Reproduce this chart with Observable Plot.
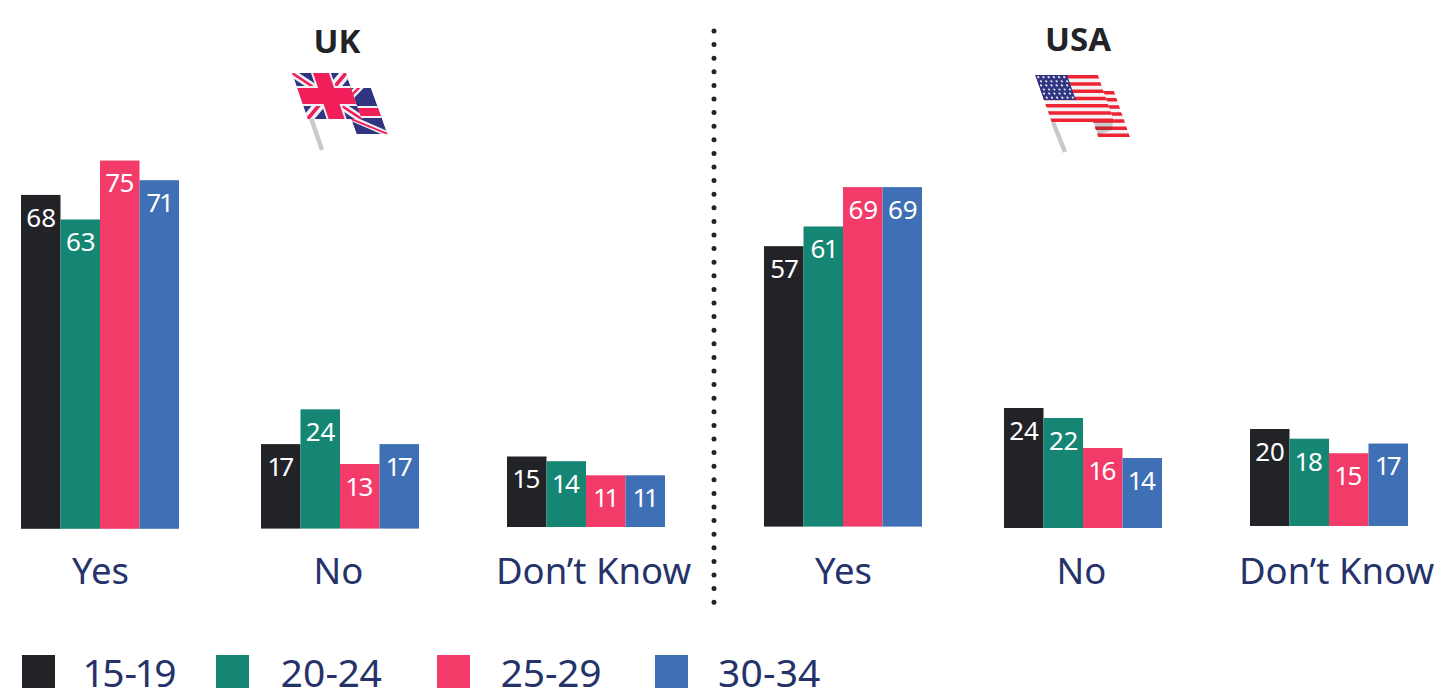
<!DOCTYPE html>
<html><head><meta charset="utf-8">
<script src="https://cdn.jsdelivr.net/npm/d3@7"></script>
<script src="https://cdn.jsdelivr.net/npm/@observablehq/plot@0.6"></script>
<style>
html,body{margin:0;padding:0;background:#fff;overflow:hidden}
#page{position:relative;width:1456px;height:688px;overflow:hidden;font-family:"Noto Sans",sans-serif;font-variant-numeric:proportional-nums}
#page>svg,#page>div{position:absolute}
#page svg text{font-variant-numeric:proportional-nums}
.title{font-weight:700;font-size:33px;color:#222327;transform:translateX(-50%);line-height:40px}
.swatch{width:33px;height:33px;top:655px}
.legendText{font-size:39px;color:#25336a;line-height:30px;top:657px}
</style></head><body><div id="page"></div>
<script>
const ages = ["15-19", "20-24", "25-29", "30-34"];
const colors = ["#222327", "#158674", "#f23b69", "#3f6fb5"];
const answers = ["Yes", "No", "Don’t Know"];
const ukYes = [68, 63, 75, 71];
const ukNo = [17, 24, 13, 17];
const ukDontKnow = [15, 14, 11, 11];
const usaYes = [57, 61, 69, 69];
const usaNo = [24, 22, 16, 14];
const usaDontKnow = [20, 18, 15, 17];

// Layout of each group of bars on the page: left edge, baseline, pixels per percentage point, label shift
const groups = [
  {answer: answers[0], values: ukYes, left: 21, base: 529, unit: 4.91, dx: 0},
  {answer: answers[1], values: ukNo, left: 261, base: 529, unit: 4.97, dx: -2},
  {answer: answers[2], values: ukDontKnow, left: 507, base: 527, unit: 4.7, dx: 7},
  {answer: answers[0], values: usaYes, left: 764, base: 527, unit: 4.92, dx: 0},
  {answer: answers[1], values: usaNo, left: 1004, base: 528, unit: 5.0, dx: -2},
  {answer: answers[2], values: usaDontKnow, left: 1250, base: 526, unit: 4.85, dx: 7}
];
const page = document.getElementById("page");
const side = 60, inner = 158, below = 70, top0 = 30, labelBaseline = 558;

for (const g of groups) {
  const rows = ages.map((age, i) => ({answer: g.answer, age, value: g.values[i]}));
  const innerH = 80 * g.unit;
  const chart = Plot.plot({
    width: inner + 2 * side, height: innerH + below + top0,
    marginLeft: side, marginRight: side, marginTop: top0, marginBottom: below,
    style: {background: "transparent", overflow: "visible"},
    x: {domain: ages, padding: 0, axis: null, round: false},
    y: {domain: [0, 80], axis: null},
    fx: {domain: [g.answer], padding: 0},
    color: {domain: ages, range: colors},
    marks: [
      Plot.barY(rows, {fx: "answer", x: "age", y: "value", fill: "age"}),
      Plot.text(rows, {fx: "answer", x: "age", y: "value", text: "value", fill: "#fff", fontSize: 26,
        dy: 23, lineAnchor: "middle", fontFamily: "'Noto Sans', sans-serif"}),
      Plot.axisFx({anchor: "bottom", label: null, tickSize: 0, tickPadding: labelBaseline - g.base, dx: g.dx,
        fontSize: 36.5, fill: "#25336a", fontFamily: "'Noto Sans', sans-serif"})
    ]
  });
  chart.style.left = (g.left - side) + "px";
  chart.style.top = (g.base - innerH - top0) + "px";
  page.appendChild(chart);
}

// Panel titles
[["UK", 337, 21], ["USA", 1078, 19]].forEach(([t, x, y]) => {
  const d = document.createElement("div");
  d.className = "title"; d.textContent = t; d.style.left = x + "px"; d.style.top = y + "px";
  page.appendChild(d);
});

// Legend
const swatchX = [22, 216, 437, 655], labelX = [85, 281, 501, 718];
ages.forEach((a, i) => {
  const s = document.createElement("div");
  s.className = "swatch"; s.style.left = swatchX[i] + "px"; s.style.background = colors[i];
  page.appendChild(s);
  const t = document.createElement("div");
  t.className = "legendText"; t.textContent = a; t.style.left = labelX[i] + "px";
  page.appendChild(t);
});

// Decorations: divider and flags
function skewX(k) { return `matrix(1 0 ${k} 1 0 0)`; }
let deco = `<line x1="714" y1="31" x2="714" y2="605" stroke="#222327" stroke-width="5" stroke-linecap="round" stroke-dasharray="0 13.6"/>`;

const navy = "#2f3580", red = "#f01f5a", pale = "#eef0f4";
deco += `<defs>
 <clipPath id="cu1"><rect width="54" height="46"/></clipPath>
 <clipPath id="cu2"><rect width="31" height="46"/></clipPath>
 <clipPath id="cs1"><rect width="63" height="47"/></clipPath>
 <clipPath id="cs2"><rect width="32" height="46"/></clipPath>
</defs>`;
// UK flag
deco += `<path d="M311 118L322 150" stroke="#c8c9cc" stroke-width="4.5"/>`;
deco += `<g transform="translate(340 88) ${skewX(0.36)}" clip-path="url(#cu2)">
  <rect width="31" height="46" fill="${navy}"/>
  <path d="M0 30L31 46" stroke="${pale}" stroke-width="6"/>
  <path d="M0 31L31 46" stroke="${red}" stroke-width="2"/>
  <path d="M0 24H31" stroke="${pale}" stroke-width="12"/>
  <path d="M0 24H31" stroke="${red}" stroke-width="8"/>
  <path d="M0 14L24 -4" stroke="${pale}" stroke-width="6"/>
  <path d="M0 14L24 -4" stroke="${red}" stroke-width="2"/>
</g>`;
deco += `<g transform="translate(292 73) ${skewX(0.34)}" clip-path="url(#cu1)">
  <rect width="54" height="46" fill="${navy}"/>
  <path d="M0 0L54 46M54 0L0 46" stroke="${pale}" stroke-width="9"/>
  <path d="M0 0L54 46M54 0L0 46" stroke="${red}" stroke-width="3"/>
  <path d="M29 0V46M0 23H54" stroke="${pale}" stroke-width="20"/>
  <path d="M29 0V46M0 23H54" stroke="${red}" stroke-width="16"/>
</g>`;
// USA flag
function stripes(w, h, n) {
  let s = `<rect width="${w}" height="${h}" fill="#f4f4f6"/>`;
  const sh = h / n;
  for (let i = 0; i < n; i += 2) s += `<rect y="${i * sh}" width="${w}" height="${sh}" fill="#ee2333"/>`;
  return s;
}
deco += `<path d="M1053 122L1065 152" stroke="#c8c9cc" stroke-width="4.5"/>`;
deco += `<g transform="translate(1082 91) ${skewX(0.35)}" clip-path="url(#cs2)">${stripes(32, 46, 13)}</g>`;
deco += `<path d="M1094 122H1113L1112 130L1098 135Z" fill="#333" opacity=".22"/>`;
let stars = "";
for (let r = 0; r < 6; r++) for (let c = 0; c < 6; c++)
  stars += `<circle cx="${2.5 + c * 5.2 + (r % 2) * 1.3}" cy="${2.2 + r * 4.1}" r="1.1" fill="#e8eaf4"/>`;
deco += `<g transform="translate(1035 75) ${skewX(0.35)}" clip-path="url(#cs1)">${stripes(63, 47, 13)}
  <rect width="32" height="25" fill="${navy}"/>${stars}</g>`;

const ns = "http://www.w3.org/2000/svg";
const svg = document.createElementNS(ns, "svg");
svg.setAttribute("width", 1456); svg.setAttribute("height", 688);
svg.style.left = "0"; svg.style.top = "0"; svg.style.pointerEvents = "none";
svg.innerHTML = deco;
page.appendChild(svg);
</script></body></html>
